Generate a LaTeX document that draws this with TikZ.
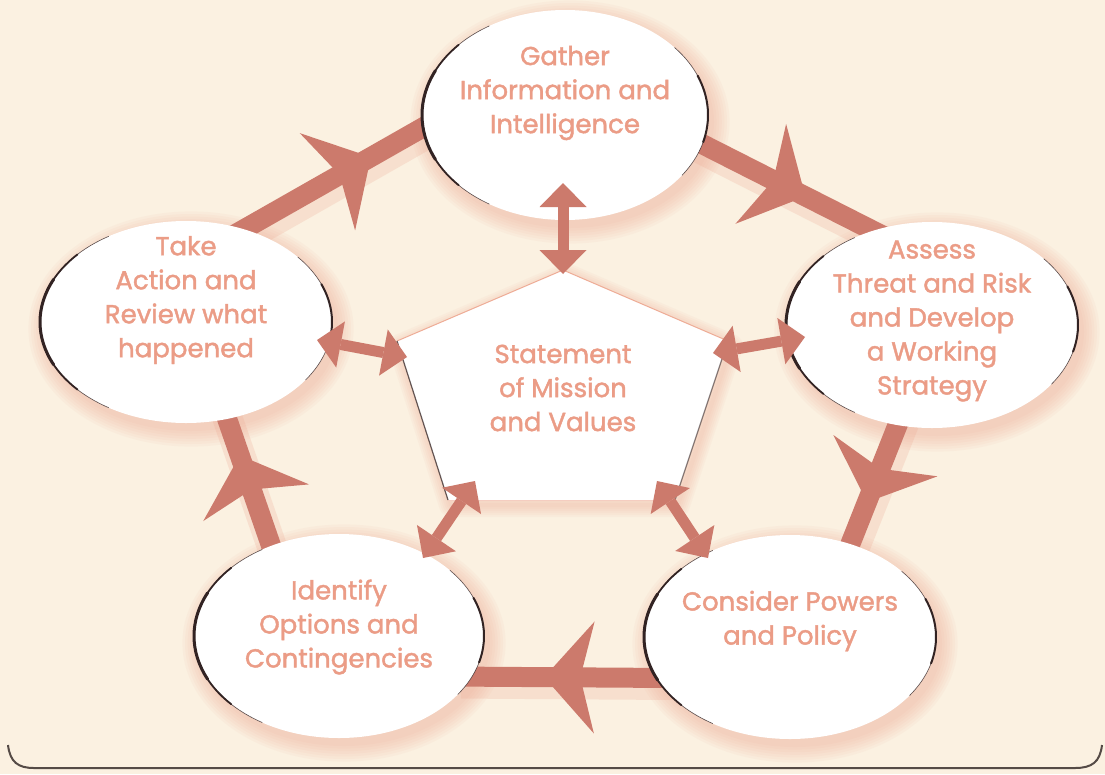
\documentclass[tikz,border=0pt]{standalone}
\usepackage{fontspec}
\setmainfont{Poppins}
\newfontfamily\lblfont{Poppins}[BoldFont={Poppins}, BoldFeatures={FakeBold=1.6}]
\usetikzlibrary{shapes.geometric,arrows.meta,decorations.markings,calc}
\pgfdeclarelayer{back}
\pgfdeclarelayer{bg}
\pgfsetlayers{back,bg,main}
\definecolor{paper}{RGB}{251,241,225}
\definecolor{bar}{RGB}{204,122,108}
\definecolor{txt}{RGB}{235,156,134}
\definecolor{glowc}{RGB}{238,172,150}
\definecolor{rim}{RGB}{50,35,35}
\definecolor{edge}{RGB}{85,75,70}

\newcommand\bub[5]{%
  \begin{pgfonlayer}{bg}
    \foreach \k in {0,...,6}{\fill[glowc,opacity=0.08] ({#2+5},{#3+7}) ellipse[x radius={#4pt+1pt+\k*2.6pt}, y radius={#5pt+1pt+\k*2.6pt}];}
  \end{pgfonlayer}
  \node[bubble, minimum width={2*#4pt}, minimum height={2*#5pt}] (#1) at (#2,#3) {};
  \draw[rim, line width=0.6pt, line cap=round, opacity=0.8] ([shift={(122:#4pt and #5pt)}]#1.center) arc[start angle=122, end angle=238, x radius=#4pt, y radius=#5pt];
  \draw[rim, line width=1.8pt, line cap=round] ([shift={(138:#4pt and #5pt)}]#1.center) arc[start angle=138, end angle=222, x radius=#4pt, y radius=#5pt];
  \draw[rim, line width=3pt, line cap=round] ([shift={(155:#4pt and #5pt)}]#1.center) arc[start angle=155, end angle=205, x radius=#4pt, y radius=#5pt];
  \draw[rim, line width=0.6pt, line cap=round, opacity=0.8] ([shift={(-35:#4pt and #5pt)}]#1.center) arc[start angle=-35, end angle=40, x radius=#4pt, y radius=#5pt];
  \draw[rim, line width=2pt, line cap=round] ([shift={(-15:#4pt and #5pt)}]#1.center) arc[start angle=-15, end angle=22, x radius=#4pt, y radius=#5pt];
}

\begin{document}
\begin{tikzpicture}[x=1pt,y=-1pt,
  bubble/.style={ellipse, fill=white, inner sep=0pt, outer sep=0pt},
  lbl/.style={font=\lblfont\bfseries\fontsize{26}{34}\selectfont, text=txt, align=center, inner sep=0pt},
  bigbar/.style={line width=20pt, draw=bar},
  barglow/.style={line width=30pt, draw=glowc, opacity=0.25, transform canvas={shift={(3pt,-7pt)}}},
  headat/.style={postaction={decorate,decoration={markings,mark=at position #1 with {\fill[bar] (22pt,0pt) -- (-28pt,56pt) -- (-14pt,0pt) -- (-28pt,-56pt) -- cycle;}}}},
  dbl/.style={line width=11pt, draw=bar, {Triangle[length=24pt,width=47pt,line width=0pt]}-{Triangle[length=24pt,width=47pt,line width=0pt]}},
]
\useasboundingbox (0,0) rectangle (1105,774);
\begin{pgfonlayer}{back}
  \fill[paper] (0,0) rectangle (1105,774);
  \draw[edge, line width=2pt] (8,745) .. controls (10,762) and (18,768) .. (34,768) -- (1075,768) .. controls (1092,768) and (1100,762) .. (1102,745);
\end{pgfonlayer}

\bub{G}{565}{115}{143}{105}
\bub{T}{186}{322}{146}{101}
\bub{A}{932}{325}{146}{103}
\bub{I}{339}{636}{145}{102}
\bub{C}{790}{637}{146}{102}

\begin{pgfonlayer}{bg}
  \draw[barglow] ($(G.-12)!-14pt!(A.122)$) -- ($(A.122)!-14pt!(G.-12)$);
  \draw[barglow] ($(A.-109)!-14pt!(C.57)$) -- ($(C.57)!-14pt!(A.-109)$);
  \draw[barglow] ($(C.197)!-14pt!(I.-17)$) -- ($(I.-17)!-14pt!(C.197)$);
  \draw[barglow] ($(I.127)!-14pt!(T.-67)$) -- ($(T.-67)!-14pt!(I.127)$);
  \draw[barglow] ($(T.58)!-14pt!(G.185)$) -- ($(G.185)!-14pt!(T.58)$);
  \draw[bigbar, headat=0.49] ($(G.-12)!-14pt!(A.122)$) -- ($(A.122)!-14pt!(G.-12)$);
  \draw[bigbar, headat=0.48] ($(A.-109)!-14pt!(C.57)$) -- ($(C.57)!-14pt!(A.-109)$);
  \draw[bigbar, headat=0.49] ($(C.197)!-14pt!(I.-17)$) -- ($(I.-17)!-14pt!(C.197)$);
  \draw[bigbar, headat=0.54] ($(I.127)!-14pt!(T.-67)$) -- ($(T.-67)!-14pt!(I.127)$);
  \draw[bigbar, headat=0.59] ($(T.58)!-14pt!(G.185)$) -- ($(G.185)!-14pt!(T.58)$);
\end{pgfonlayer}

% pentagon
\coordinate (p1) at (563,270);
\coordinate (p2) at (728,341);
\coordinate (p3) at (675,500);
\coordinate (p4) at (448,500);
\coordinate (p5) at (397,341);
\begin{pgfonlayer}{bg}
  \foreach \k in {1,...,6}{\draw[glowc, opacity=0.08, line width={\k*4pt}, line join=round, transform canvas={shift={(3pt,-5pt)}}] (p1) -- (p2) -- (p3) -- (p4) -- (p5) -- cycle;}
\end{pgfonlayer}
\fill[white] (p1) -- (p2) -- (p3) -- (p4) -- (p5) -- cycle;
\draw[glowc, line width=1pt] (p5) -- (p1) -- (p2);
\draw[glowc!60, line width=1pt] (p4) -- (p3);
\draw[rim, line width=1.2pt, opacity=0.75] (p5) -- (p4);
\draw[rim, line width=1.2pt, opacity=0.6] (p2) -- (p3);
\node[lbl] (M) at (563,388) {Statement\\of Mission\\and Values};

% double arrows
\coordinate (aG) at (563,183);  \coordinate (aP1) at (563,274);
\coordinate (aT) at (317,340);  \coordinate (aP5) at (407,357);
\coordinate (aA) at (805,337);  \coordinate (aP2) at (713,353);
\coordinate (aI) at (423,558);  \coordinate (aP4) at (475,481);
\coordinate (aC) at (708,558);  \coordinate (aP3) at (657,481);
\draw[dbl] (aG) -- (aP1);
\draw[dbl] (aT) -- (aP5);
\draw[dbl] (aA) -- (aP2);
\draw[dbl] (aI) -- (aP4);
\draw[dbl] (aC) -- (aP3);

% labels
\node[lbl] (GT) at ([yshift=22pt]G.center) {Gather\\Information and\\Intelligence};
\node[lbl] (TT) at ([yshift=22pt]T.center) {Take\\Action and\\Review what\\happened};
\node[lbl] (AT) at ([yshift=4pt]A.center) {Assess\\Threat and Risk\\and Develop\\a Working\\Strategy};
\node[lbl] (IT) at ([yshift=9pt]I.center) {Identify\\Options and\\Contingencies};
\node[lbl] (CT) at ([yshift=16pt]C.center) {Consider Powers\\and Policy};
\end{tikzpicture}
\end{document}
